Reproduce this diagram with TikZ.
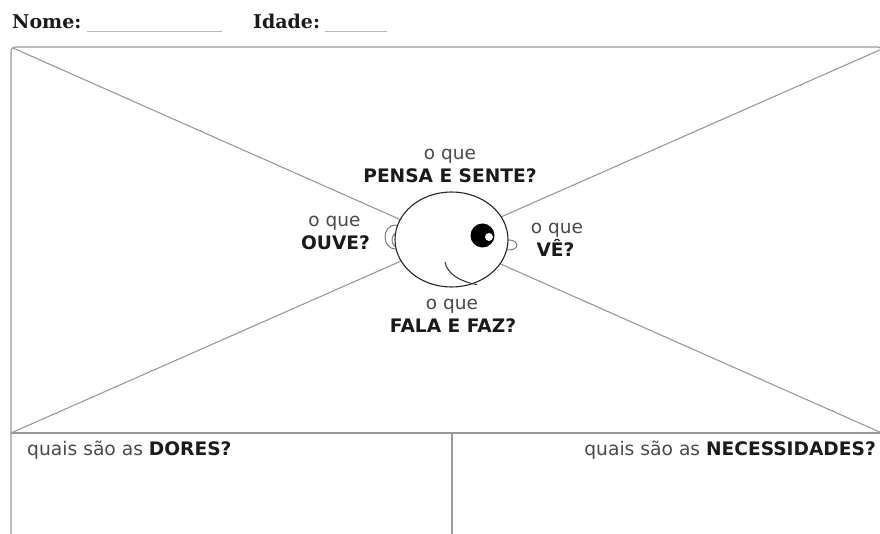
\documentclass[tikz,border=0pt]{standalone}
\usepackage{fontspec}
\setmainfont{DejaVu Sans}
\newfontfamily\slabfont{DejaVu Serif}
\usetikzlibrary{shapes.geometric}
\definecolor{framegray}{HTML}{9A9A9A}
\definecolor{lightgray}{HTML}{4A4A4A}
\definecolor{darktext}{HTML}{1A1A1A}
\tikzset{
  frameline/.style={draw=framegray, line width=1.1pt},
  facedraw/.style={draw=black!85, line width=1.1pt},
  earline/.style={draw=black!55, line width=0.9pt},
  small/.style={text=lightgray, font=\fontsize{18.5}{22}\selectfont, inner sep=0pt, anchor=base},
  big/.style={text=darktext, font=\fontsize{18.6}{22}\selectfont\bfseries, inner sep=0pt, anchor=base},
  quais/.style={text=lightgray, font=\fontsize{18.7}{22}\selectfont, inner sep=0pt},
  header/.style={text=darktext, font=\slabfont\fontsize{19}{22}\selectfont\bfseries, inner sep=0pt, anchor=base west},
  blank/.style={draw=framegray!70, line width=0.9pt},
}
\begin{document}
\begin{tikzpicture}[x=1pt,y=-1pt]
\useasboundingbox (0,0) rectangle (880,534);
\fill[white] (0,0) rectangle (880,534);
% header
\node[header] (nome) at (12,29) {Nome:};
\node[header] (idade) at (253,29) {Idade:};
\coordinate (n1) at (87,31); \coordinate (n2) at (222,31);
\coordinate (i1) at (325,31); \coordinate (i2) at (387,31);
\draw[blank] (n1) -- (n2);
\draw[blank] (i1) -- (i2);
% frame
\begin{scope}
\clip (0,0) rectangle (880,534);
\draw[frameline, rounded corners=4pt] (11,47) rectangle (882,560);
\end{scope}
\coordinate (tl) at (13,48);
\coordinate (tr) at (882,49);
\coordinate (bl) at (11,433);
\coordinate (br) at (882,433);
\coordinate (dtop) at (452,433);
\coordinate (dbot) at (452,540);
\draw[frameline] (tl) -- (br);
\draw[frameline] (tr) -- (bl);
\draw[frameline] (bl) -- (br);
\draw[frameline] (dtop) -- (dbot);
% ears
\draw[earline] (395,237) ellipse [x radius=10, y radius=12];
\draw[earline] (398,240) ellipse [x radius=6, y radius=7.5];
\draw[earline] (509,245) ellipse [x radius=8, y radius=5];
% face
\node[ellipse, facedraw, fill=white, minimum width=113pt, minimum height=95pt, inner sep=0pt] (face) at (451.5,239.5) {};
\fill[black] (482.5,235.5) circle [radius=12];
\fill[white] (489,237) circle [radius=4];
\draw[draw=black!80, line width=1pt] (445,262) .. controls (447,274) and (461,282) .. (477,284.5);
% labels
\node[small] (q1) at (450,160) {o que};
\node[big] (pensa) at (450,182.5) {PENSA E SENTE?};
\node[small] (q2) at (334.5,227) {o que};
\node[big] (ouve) at (335.5,250) {OUVE?};
\node[small] (q3) at (557,234) {o que};
\node[big] (ve) at (555.5,257) {VÊ?};
\node[small] (q4) at (452,309) {o que};
\node[big] (fala) at (453,332) {FALA E FAZ?};
\node[quais, anchor=base west] (dores) at (27,455) {quais são as \textcolor{darktext}{\fontsize{18.6}{22}\selectfont\bfseries DORES?}};
\node[quais, anchor=base east] (nec) at (876,455) {quais são as \textcolor{darktext}{\fontsize{18.6}{22}\selectfont\bfseries NECESSIDADES?}};
\end{tikzpicture}
\end{document}
